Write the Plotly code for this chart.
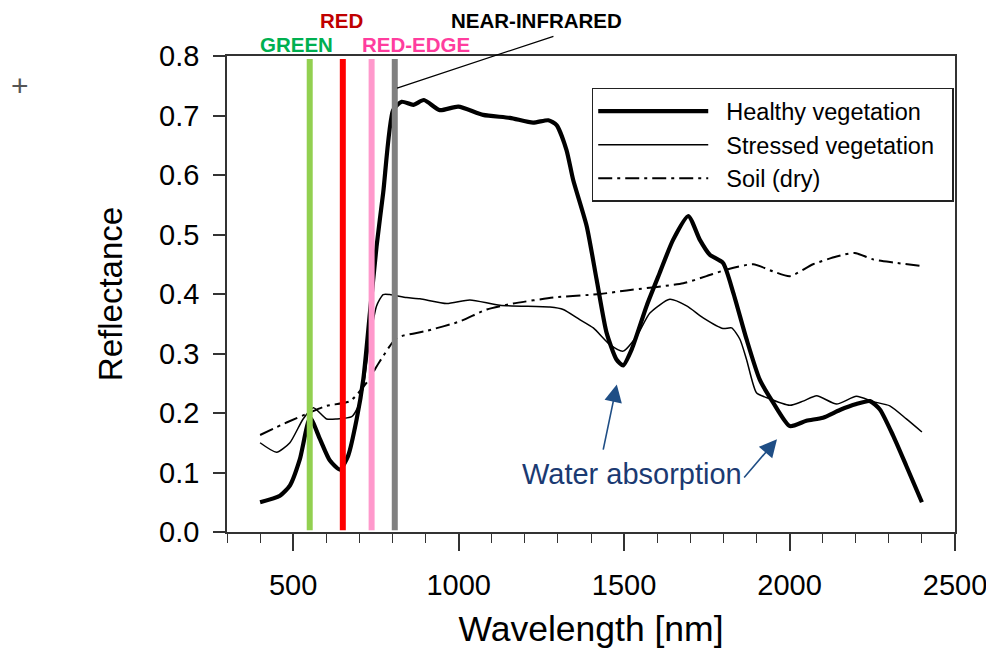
import plotly.graph_objects as go

# ---------------- data ----------------
healthy_x = [400, 460, 490, 520, 551, 581, 611, 641, 666, 692, 712, 732, 752, 772, 802, 828, 863, 895, 943,
             999, 1074, 1155, 1225, 1271, 1296, 1326, 1346, 1387, 1417, 1447, 1477, 1497, 1523, 1568, 1608,
             1648, 1694, 1729, 1759, 1799, 1830, 1870, 1910, 1950, 2001, 2051, 2101, 2152, 2202, 2243, 2273,
             2313, 2353, 2400]
healthy_y = [0.050, 0.061, 0.078, 0.122, 0.192, 0.156, 0.120, 0.105, 0.128, 0.190, 0.257, 0.369, 0.480, 0.570,
             0.709, 0.723, 0.718, 0.726, 0.709, 0.715, 0.701, 0.696, 0.688, 0.692, 0.684, 0.642, 0.592, 0.514,
             0.424, 0.335, 0.290, 0.280, 0.307, 0.380, 0.436, 0.491, 0.531, 0.491, 0.466, 0.452, 0.402, 0.324,
             0.256, 0.218, 0.178, 0.187, 0.192, 0.205, 0.215, 0.220, 0.206, 0.162, 0.111, 0.050]

stressed_x = [400, 450, 490, 530, 561, 601, 631, 677, 697, 712, 732, 752, 772, 792, 843, 883, 964, 1034, 1125,
              1276, 1316, 1366, 1407, 1457, 1497, 1538, 1578, 1638, 1689, 1739, 1799, 1825, 1850, 1870, 1900,
              1930, 2001, 2041, 2082, 2142, 2202, 2253, 2303, 2353, 2400]
stressed_y = [0.150, 0.134, 0.150, 0.190, 0.209, 0.190, 0.190, 0.194, 0.212, 0.245, 0.324, 0.380, 0.399, 0.399,
              0.394, 0.392, 0.384, 0.390, 0.381, 0.378, 0.374, 0.357, 0.343, 0.315, 0.304, 0.329, 0.368, 0.391,
              0.380, 0.360, 0.342, 0.343, 0.324, 0.290, 0.234, 0.226, 0.213, 0.220, 0.229, 0.215, 0.228, 0.219,
              0.212, 0.190, 0.168]

soil_x = [400, 480, 551, 601, 672, 722, 762, 813, 903, 1004, 1085, 1165, 1286, 1427, 1508, 1679, 1749, 1810,
          1890, 1950, 2001, 2071, 2142, 2197, 2253, 2313, 2400]
soil_y = [0.163, 0.184, 0.201, 0.212, 0.220, 0.251, 0.287, 0.326, 0.338, 0.354, 0.374, 0.384, 0.394, 0.400,
          0.406, 0.418, 0.430, 0.441, 0.450, 0.438, 0.430, 0.450, 0.463, 0.469, 0.458, 0.453, 0.447]

band_names = ["GREEN", "RED", "RED-EDGE", "NEAR-INFRARED"]
band_wavelengths = [550, 650, 737, 807]
band_line_colors = ["#92D050", "#FF0000", "#FF99CC", "#808080"]
band_label_colors = ["#00B050", "#C00000", "#FF3D9E", "#000000"]
band_label_x = [511, 646, 872, 1234]
band_label_row = [1.024, 1.074, 1.024, 1.074]  # fraction of plot height
band_span = [0.003, 0.795]

series_names = ["Healthy vegetation", "Stressed vegetation", "Soil (dry)"]

FONT = "Liberation Sans, Arial, sans-serif"
NB = "\u00a0\u00a0"

fig = go.Figure()

fig.add_trace(go.Scatter(x=healthy_x, y=healthy_y, name=NB + series_names[0], mode="lines",
                         line=dict(color="black", width=4.2, shape="spline", smoothing=0.6)))
fig.add_trace(go.Scatter(x=stressed_x, y=stressed_y, name=NB + series_names[1] + NB, mode="lines",
                         line=dict(color="black", width=1.5, shape="spline", smoothing=0.6)))
fig.add_trace(go.Scatter(x=soil_x, y=soil_y, name=NB + series_names[2], mode="lines",
                         line=dict(color="black", width=2, dash="14px,5px,3px,5px", shape="spline", smoothing=0.6)))

for wl, col in zip(band_wavelengths, band_line_colors):
    fig.add_trace(go.Scatter(x=[wl, wl], y=band_span, mode="lines", showlegend=False, hoverinfo="skip",
                             line=dict(color=col, width=6)))

annotations = []
for name, lx, ly, col in zip(band_names, band_label_x, band_label_row, band_label_colors):
    annotations.append(dict(x=lx, y=ly, xref="x", yref="paper", text="<b>%s</b>" % name, showarrow=False,
                            font=dict(family=FONT, size=20.5, color=col), xanchor="center", yanchor="middle"))

# leader line for NEAR-INFRARED
annotations.append(dict(x=814, y=0.746, xref="x", yref="y", ax=1291, ay=0.834, axref="x", ayref="y",
                        text="", showarrow=True, arrowhead=0, arrowwidth=1.3, arrowcolor="black"))

# water absorption
annotations.append(dict(x=1524, y=0.098, xref="x", yref="y", text="Water absorption", showarrow=False,
                        font=dict(family=FONT, size=29, color="#1B3A72"), xanchor="center", yanchor="middle"))
annotations.append(dict(x=1478, y=0.248, xref="x", yref="y", ax=1436, ay=0.136, axref="x", ayref="y",
                        text="", showarrow=True, arrowhead=2, arrowsize=2.2, arrowwidth=1.6, arrowcolor="#1F4E85"))
annotations.append(dict(x=1962, y=0.156, xref="x", yref="y", ax=1859, ay=0.089, axref="x", ayref="y",
                        text="", showarrow=True, arrowhead=2, arrowsize=2.2, arrowwidth=1.6, arrowcolor="#1F4E85"))

# stray mark
annotations.append(dict(x=-0.284, y=0.939, xref="paper", yref="paper", text="+", showarrow=False,
                        font=dict(family=FONT, size=30, color="#555"), xanchor="center", yanchor="middle"))

fig.update_layout(
    width=986, height=649,
    margin=dict(l=219, r=39, t=48, b=125, autoexpand=False),
    paper_bgcolor="white", plot_bgcolor="white",
    font=dict(family=FONT, color="black"),
    annotations=annotations,
    legend=dict(x=0.501, y=0.933, xanchor="left", yanchor="top", bgcolor="white",
                bordercolor="#222", borderwidth=1.5, font=dict(family=FONT, size=23.5, color="black"),
                itemwidth=110, tracegroupgap=0),
    xaxis=dict(range=[300, 2500], tickvals=[500, 1000, 1500, 2000, 2500], ticks="outside", ticklen=17,
               tickwidth=1.5, tickcolor="#333", showline=True, linecolor="#333", linewidth=1.5, mirror=True,
               showgrid=False, zeroline=False, tickfont=dict(family=FONT, size=29, color="black"),
               ticklabelstandoff=9,
               minor=dict(dtick=100, ticks="outside", ticklen=9, tickwidth=1.2, tickcolor="#333", showgrid=False),
               title=dict(text="Wavelength [nm]", font=dict(family=FONT, size=35.5, color="black"), standoff=17)),
    yaxis=dict(range=[0, 0.8], dtick=0.1, tickformat=".1f", ticks="outside", ticklen=12, tickwidth=1.5,
               tickcolor="#333", showline=True, linecolor="#333", linewidth=1.5, mirror=True, showgrid=False,
               zeroline=False, tickfont=dict(family=FONT, size=29, color="black"), ticklabelstandoff=8,
               title=dict(text="Reflectance", font=dict(family=FONT, size=33, color="black"), standoff=27)),
)

fig.write_html("out.html")
